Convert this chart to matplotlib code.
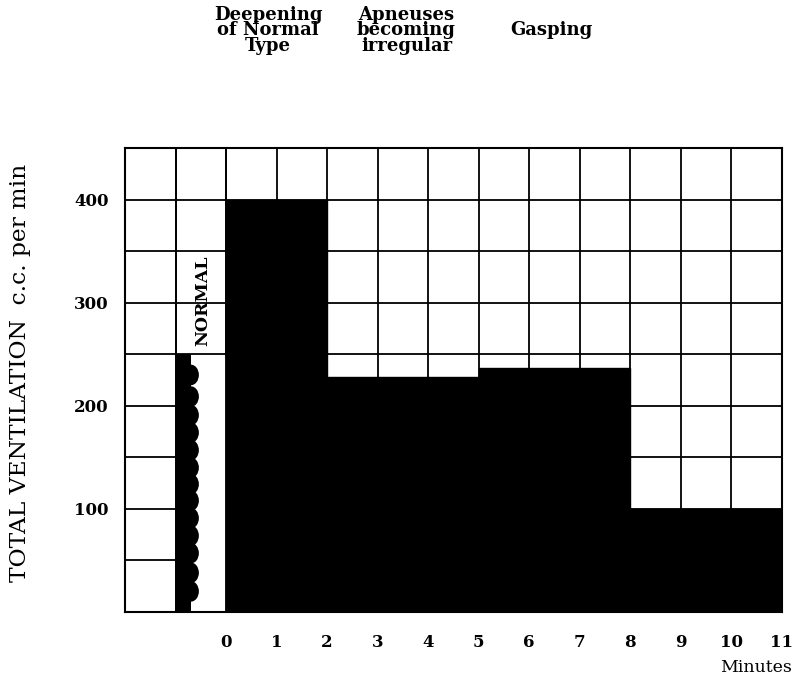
import matplotlib.pyplot as plt
from matplotlib.patches import Rectangle, Ellipse
from numpy import arange

# stage bars (minutes after start, ventilation c.c. per min)
bar_starts = [0, 2, 5, 8]
bar_widths = [2, 3, 3, 3]
bar_heights = [400, 228, 237, 100]

# normal breathing column
normal_height = 250
# y positions of the scallops along the normal column
wave_centers = [230, 209, 191, 174, 157, 140, 124, 108, 91, 74, 57, 38, 20]

stage_labels = ["Deepening\nof Normal\nType", "Apneuses\nbecoming\nirregular", "Gasping"]
stage_x = [0.83, 3.57, 6.43]

xtick_vals = list(range(0, 12))
ytick_vals = [100, 200, 300, 400]

font = "DejaVu Serif"

fig = plt.figure(figsize=(7.92, 6.83), dpi=100)
ax = fig.add_axes([0.158, 0.104, 0.829, 0.679])

ax.set_xlim(-2, 11)
ax.set_ylim(0, 450)

# grid
for x in range(-2, 12):
    ax.axvline(x, color="black", lw=1.3, zorder=1)
for y in arange(50, 451, 50):
    ax.axhline(y, color="black", lw=1.3, zorder=1)

# blank the normal column below the normal level
ax.add_patch(Rectangle((-1, 0), 1, normal_height - 1.5, facecolor="white",
                       edgecolor="none", zorder=2))
ax.plot([-1, -1], [0, 450], color="black", lw=1.3, zorder=3)
ax.plot([0, 0], [0, 450], color="black", lw=1.3, zorder=3)

# normal column, black with a scalloped edge
ax.add_patch(Rectangle((-1, 0), 0.31, normal_height, facecolor="black",
                       edgecolor="none", zorder=4))
for c in wave_centers:
    ax.add_patch(Ellipse((-0.70, c), 0.32, 20, facecolor="black",
                         edgecolor="none", zorder=4))
ax.text(-0.47, 302, "NORMAL", rotation=90, ha="center", va="center",
        fontsize=12.5, fontweight="bold", family=font, zorder=5)

ax.bar(bar_starts, bar_heights, width=bar_widths, align="edge",
       color="black", edgecolor="black", zorder=4)

for sp in ax.spines.values():
    sp.set_linewidth(1.5)
    sp.set_zorder(6)

ax.set_xticks(xtick_vals)
ax.set_xticklabels([str(v) for v in xtick_vals], family=font,
                   fontweight="bold", fontsize=12)
ax.set_yticks(ytick_vals)
ax.set_yticklabels([str(v) for v in ytick_vals], family=font,
                   fontweight="bold", fontsize=12)
ax.tick_params(length=0, pad=16)
ax.tick_params(axis="y", pad=12)

for lab, x in zip(stage_labels, stage_x):
    ax.text(x, 1.254, lab, transform=ax.get_xaxis_transform(), ha="center",
            va="center", fontsize=13, fontweight="bold", family=font,
            linespacing=0.85)

fig.text(0.025, 0.454, "TOTAL VENTILATION  c.c. per min", rotation=90,
         ha="center", va="center", fontsize=16.8, family=font)
fig.text(1.0, 0.023, "Minutes", ha="right", va="center", fontsize=12.5,
         family=font)

fig.savefig("out.png", dpi=100)
